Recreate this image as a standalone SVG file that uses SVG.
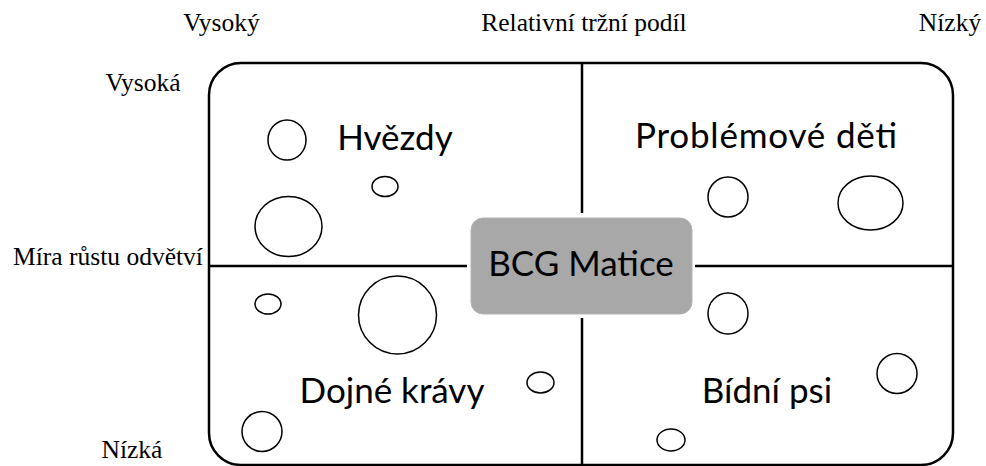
<svg xmlns="http://www.w3.org/2000/svg" width="986" height="466" viewBox="0 0 986 466">
<style>
.ax{font-family:"Liberation Serif","Times New Roman",serif;font-size:25.5px;fill:#000}
.q{font-family:Lato,"Open Sans",sans-serif;font-size:35px;fill:#000}
.b{fill:none;stroke:#000;stroke-width:1.5}
.ln{stroke:#000;stroke-width:2.5;fill:none}
</style>
<rect width="986" height="466" fill="#fff"/>
<g id="frame">
<rect x="209" y="63" width="744" height="402" rx="32" ry="32" class="ln"/>
</g>
<g id="connectors">
<line x1="582" y1="63" x2="582" y2="213" class="ln"/>
<line x1="582" y1="318" x2="582" y2="466" class="ln"/>
<line x1="209" y1="266" x2="467" y2="266" class="ln"/>
<line x1="695" y1="266" x2="953" y2="266" class="ln"/>
</g>
<g id="axis-labels">
<text class="ax" x="221.5" y="31" text-anchor="middle">Vysoký</text>
<text class="ax" x="584" y="31" text-anchor="middle">Relativní tržní podíl</text>
<text class="ax" x="950" y="31" text-anchor="middle">Nízký</text>
<text class="ax" x="143" y="91" text-anchor="middle">Vysoká</text>
<text class="ax" x="108" y="265" text-anchor="middle">Míra růstu odvětví</text>
<text class="ax" x="132" y="458" text-anchor="middle">Nízká</text>
</g>
<g id="center">
<rect x="471" y="218" width="221" height="96" rx="12" ry="12" fill="#a8a8a8" stroke="#b4b4b4" stroke-width="1"/>
<text class="q" x="581" y="276" text-anchor="middle">BCG Matice</text>
</g>
<g id="stars">
<text class="q" x="395" y="150" text-anchor="middle">Hvězdy</text>
<ellipse class="b" cx="287" cy="140" rx="19" ry="20"/>
<ellipse class="b" cx="385" cy="186.5" rx="13" ry="10"/>
<ellipse class="b" cx="288.5" cy="226.5" rx="33.5" ry="30"/>
</g>
<g id="question-marks">
<text class="q" x="635" y="148" textLength="262" lengthAdjust="spacing">Problémové děti</text>
<ellipse class="b" cx="728" cy="197" rx="20" ry="20"/>
<ellipse class="b" cx="870.5" cy="203" rx="32.5" ry="27"/>
</g>
<g id="cash-cows">
<text class="q" x="392" y="403" text-anchor="middle">Dojné krávy</text>
<ellipse class="b" cx="268" cy="304" rx="13" ry="10"/>
<ellipse class="b" cx="397.5" cy="315" rx="39" ry="39"/>
<ellipse class="b" cx="262" cy="431.5" rx="20" ry="20"/>
<ellipse class="b" cx="540.5" cy="382.5" rx="13.5" ry="10.5"/>
</g>
<g id="dogs">
<text class="q" x="767" y="403" text-anchor="middle">Bídní psi</text>
<ellipse class="b" cx="728" cy="313.5" rx="20" ry="20.5"/>
<ellipse class="b" cx="897" cy="373.5" rx="20" ry="20"/>
<ellipse class="b" cx="671" cy="440" rx="14" ry="11"/>
</g>
</svg>
